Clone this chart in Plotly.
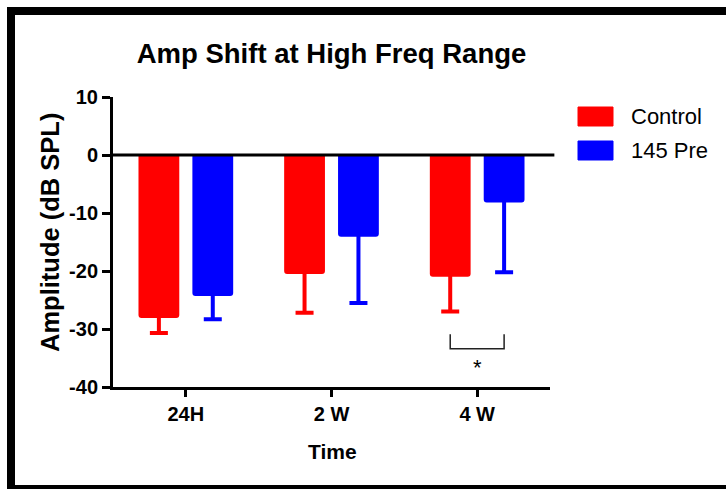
import plotly.graph_objects as go

# ---- data ----
categories = ["24H", "2 W", "4 W"]
series_names = ["Control", "145 Pre"]
control_mean = [-28.1, -20.5, -21.0]
control_sd = [2.6, 6.7, 6.0]
pre_mean = [-24.3, -14.1, -8.2]
pre_sd = [4.0, 11.4, 12.0]
y_ticks = [10, 0, -10, -20, -30, -40]
sig_group = 2          # group with significance bracket
sig_label = "*"

# ---- styling ----
W, H = 726, 489
L, R, T, B = 113, 176, 97, 102
PW, PH = W - L - R, H - T - B
colors = ["#ff0000", "#0000ff"]
FONT = "Liberation Sans, Arial, sans-serif"
bar_w = 0.28
offsets = [-0.325, 0.045]
hat_inset = 0.7   # keeps the (hidden) upper error cap inside the bar


def px(x):
    return (x - L) / PW


def py(y):
    return (H - B - y) / PH


fig = go.Figure()
means = [control_mean, pre_mean]
sds = [control_sd, pre_sd]

for name, mean, sd, col, off in zip(series_names, means, sds, colors, offsets):
    fig.add_trace(go.Bar(
        x=list(range(len(categories))), y=mean, name=name,
        width=bar_w, offset=off,
        marker=dict(color=col, line=dict(width=0), cornerradius=3),
        error_y=dict(type="data", symmetric=False, array=[hat_inset] * len(sd),
                     arrayminus=sd, color=col, thickness=4, width=9),
        showlegend=False,
    ))

shapes = []
annotations = []

# zero line
shapes.append(dict(type="line", xref="paper", yref="y", x0=0, x1=1.01, y0=0, y1=0,
                   line=dict(color="black", width=3), layer="above"))

# significance bracket
xa = sig_group + offsets[0] + bar_w / 2
xb = sig_group + offsets[1] + bar_w / 2
low = min(control_mean[sig_group] - control_sd[sig_group], pre_mean[sig_group] - pre_sd[sig_group])
y_top = low - 3.9
y_bot = y_top - 2.5
shapes.append(dict(type="path", xref="x", yref="y",
                   path=f"M {xa},{y_top} L {xa},{y_bot} L {xb},{y_bot} L {xb},{y_top}",
                   line=dict(color="#222222", width=1.5)))
annotations.append(dict(x=sig_group, y=y_bot - 3.2, xref="x", yref="y", text=sig_label,
                        showarrow=False, font=dict(family=FONT, size=22, color="black")))

# legend (custom swatches)
for i, (name, col) in enumerate(zip(series_names, colors)):
    y0 = 107 + i * 34
    shapes.append(dict(type="rect", xref="paper", yref="paper",
                       x0=px(578), x1=px(613), y0=py(y0), y1=py(y0 + 19),
                       fillcolor=col, line=dict(color=col, width=1)))
    annotations.append(dict(x=px(629), y=py(y0 + 9.5), xref="paper", yref="paper",
                            text=name, showarrow=False, xanchor="left", yanchor="middle",
                            font=dict(family=FONT, size=22, color="black")))

# axis titles
annotations.append(dict(x=px(50), y=py(233), xref="paper", yref="paper",
                        text="Amplitude (dB SPL)", textangle=-90, showarrow=False,
                        xanchor="center", yanchor="middle",
                        font=dict(family=FONT, size=25.5, color="black", weight="bold")))
annotations.append(dict(x=px(332), y=py(452), xref="paper", yref="paper",
                        text="Time", showarrow=False, xanchor="center", yanchor="middle",
                        font=dict(family=FONT, size=21, color="black", weight="bold")))

# border frame (left, top, bottom)
for (x0, y0, x1, y1) in [(7, 7, 15, 489), (7, 7, 730, 15), (7, 485, 730, 492)]:
    shapes.append(dict(type="rect", xref="paper", yref="paper",
                       x0=px(x0), x1=px(x1), y0=py(y0), y1=py(y1),
                       fillcolor="black", line=dict(width=0)))

fig.update_layout(
    width=W, height=H,
    margin=dict(l=L, r=R, t=T, b=B, pad=0),
    paper_bgcolor="white", plot_bgcolor="white",
    barmode="overlay",
    title=dict(text="Amp Shift at High Freq Range", x=0.5, xref="paper", xanchor="center",
               y=1 - 53 / H, yref="container", yanchor="middle",
               font=dict(family=FONT, size=27.5, color="black", weight="bold")),
    xaxis=dict(range=[-0.5, 2.5], tickmode="array", tickvals=list(range(len(categories))),
               ticktext=categories, showgrid=False, zeroline=False,
               showline=True, linecolor="black", linewidth=3,
               ticks="outside", ticklen=7, tickwidth=3, tickcolor="black",
               tickfont=dict(family=FONT, size=20, color="black", weight="bold")),
    yaxis=dict(range=[-40, 10], tickmode="array", tickvals=y_ticks,
               ticktext=[str(v) for v in y_ticks],
               showgrid=False, zeroline=False,
               showline=True, linecolor="black", linewidth=3,
               ticks="outside", ticklen=8, tickwidth=3, tickcolor="black",
               tickfont=dict(family=FONT, size=20, color="black", weight="bold")),
    shapes=shapes, annotations=annotations,
    showlegend=False,
)

fig.write_html("out.html")
